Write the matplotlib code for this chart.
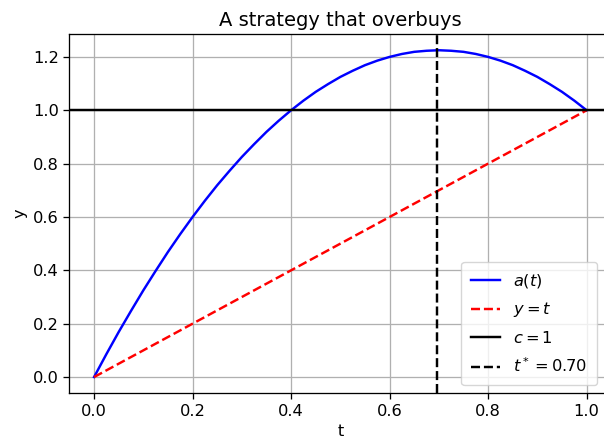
import matplotlib
matplotlib.use("Agg")
import matplotlib.pyplot as plt

# values
t_vals = [0.0, 0.025, 0.05, 0.075, 0.1, 0.125, 0.15, 0.175, 0.2, 0.225, 0.25,
          0.275, 0.3, 0.325, 0.35, 0.375, 0.4, 0.425, 0.45, 0.475, 0.5,
          0.525, 0.55, 0.575, 0.6, 0.625, 0.65, 0.675, 0.7, 0.725, 0.75,
          0.775, 0.8, 0.825, 0.85, 0.875, 0.9, 0.925, 0.95, 0.975, 1.0]
a_vals = [0.0, 0.086, 0.169, 0.248, 0.325, 0.398, 0.469, 0.536, 0.6, 0.661, 0.719,
          0.773, 0.825, 0.873, 0.919, 0.961, 1.0, 1.036, 1.069, 1.098, 1.125,
          1.148, 1.169, 1.186, 1.2, 1.211, 1.219, 1.223, 1.225, 1.223, 1.219,
          1.211, 1.2, 1.186, 1.169, 1.148, 1.125, 1.098, 1.069, 1.036, 1.0]
diag_t = [0.0, 1.0]
c_level = 1.0
t_star = 0.6955
t_star_label = "0.70"

# reference looks like a 100-dpi figure shown ~1.17x larger
S = 1.17
plt.rcParams.update({
    "font.size": 10 * S,
    "lines.linewidth": 1.5 * S,
    "axes.linewidth": 0.8 * S,
    "grid.linewidth": 0.8 * S,
    "xtick.major.width": 0.8 * S,
    "ytick.major.width": 0.8 * S,
    "xtick.major.size": 3.5 * S,
    "ytick.major.size": 3.5 * S,
})

fig = plt.figure(figsize=(6.04, 4.46), dpi=100)
# reference is cropped on the right: axes run past the image edge
ax = fig.add_axes([0.115, 0.118, 0.897, 0.806])
ax.plot(t_vals, a_vals, color="blue", label=r"$a(t)$")
ax.plot(diag_t, diag_t, "r--", label=r"$y=t$")
ax.axhline(c_level, color="black", label=r"$c=1$")
ax.axvline(t_star, color="black", linestyle="--", label=rf"$t^*={t_star_label}$")
ax.set_title("A strategy that overbuys")
ax.set_xlabel("t")
ax.set_ylabel("y")
ax.grid(True)
ax.legend(loc="lower right", bbox_to_anchor=(597 / 604, 1 - 385 / 446),
          bbox_transform=fig.transFigure, borderaxespad=0, handlelength=1.8,
          labelspacing=0.65, borderpad=0.6)
fig.savefig("out.png", dpi=100)
